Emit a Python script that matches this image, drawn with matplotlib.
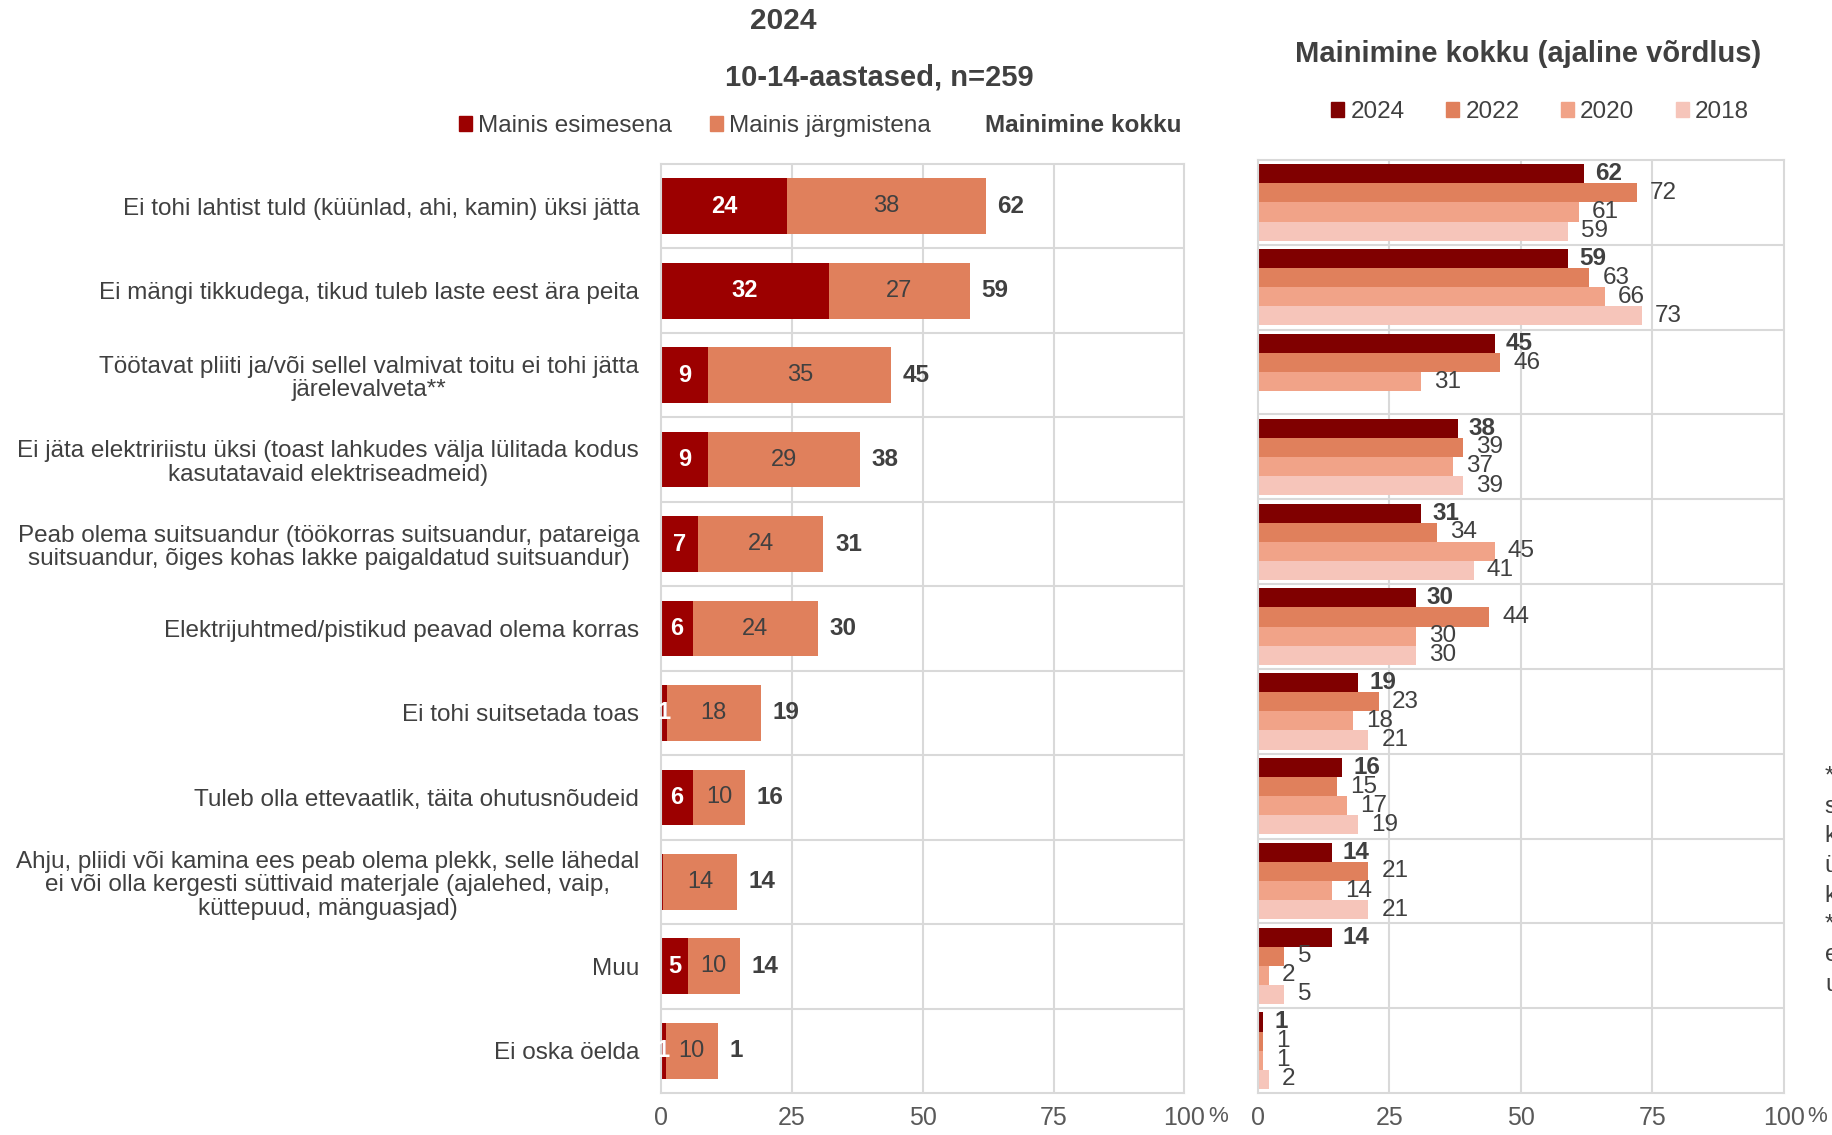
import matplotlib.pyplot as plt
import matplotlib.patches as mpatches
import numpy as np

plt.rcParams['font.family'] = ['Liberation Sans', 'DejaVu Sans']

categories = [
    "Ei tohi lahtist tuld (küünlad, ahi, kamin) üksi jätta",
    "Ei mängi tikkudega, tikud tuleb laste eest ära peita",
    "Töötavat pliiti ja/või sellel valmivat toitu ei tohi jätta\njärelevalveta**",
    "Ei jäta elektririistu üksi (toast lahkudes välja lülitada kodus\nkasutatavaid elektriseadmeid)",
    "Peab olema suitsuandur (töökorras suitsuandur, patareiga\nsuitsuandur, õiges kohas lakke paigaldatud suitsuandur)",
    "Elektrijuhtmed/pistikud peavad olema korras",
    "Ei tohi suitsetada toas",
    "Tuleb olla ettevaatlik, täita ohutusnõudeid",
    "Ahju, pliidi või kamina ees peab olema plekk, selle lähedal\nei või olla kergesti süttivaid materjale (ajalehed, vaip,\nküttepuud, mänguasjad)",
    "Muu",
    "Ei oska öelda",
]
first_mention = [24, 32, 9, 9, 7, 6, 1, 6, 0.4, 5, 0.8]
next_mention = [38, 27, 35, 29, 24, 24, 18, 10, 14, 10, 10]
total_mention = [62, 59, 45, 38, 31, 30, 19, 16, 14, 14, 1]

years = ["2024", "2022", "2020", "2018"]
y2024 = [62, 59, 45, 38, 31, 30, 19, 16, 14, 14, 1]
y2022 = [72, 63, 46, 39, 34, 44, 23, 15, 21, 5, 1]
y2020 = [61, 66, 31, 37, 45, 30, 18, 17, 14, 2, 1]
y2018 = [59, 73, np.nan, 39, 41, 30, 21, 19, 21, 5, 2]

footnote = ["*Vastaja", "sai nimetada", "kuni kolm", "ühte või", "kolme asja", "**2018. a", "ei olnud", "uuritud"]

TXT = '#404040'
GRID = '#d9d9d9'
c_first = '#9C0000'
c_next = '#E0805C'
year_colors = ['#800000', '#E0805C', '#F1A388', '#F6C5BA']

fig = plt.figure(figsize=(18.32, 11.35), dpi=100)
ax1 = fig.add_axes([0.361, 0.037, 0.2855, 0.8185])
ax2 = fig.add_axes([0.6867, 0.037, 0.287, 0.822])

ypos = np.arange(len(categories))


def style_axes(ax):
    ax.set_xlim(0, 100)
    ax.set_ylim(len(categories) - 0.5, -0.5)
    ax.set_xticks([0, 25, 50, 75, 100])
    ax.set_xticklabels(["0", "25", "50", "75", "100"])
    ax.tick_params(axis='x', length=0, pad=9, labelsize=18, labelcolor='#595959')
    ax.tick_params(axis='y', length=0)
    for s in ax.spines.values():
        s.set_color(GRID)
        s.set_linewidth(1.5)
    for xv in [25, 50, 75]:
        ax.axvline(xv, color=GRID, lw=1.5, zorder=0)
    for yv in ypos[:-1] + 0.5:
        ax.axhline(yv, color=GRID, lw=1.5, zorder=0)
    ax.annotate("%", (100, 0), xycoords=ax.get_xaxis_transform(), xytext=(17, -9),
                textcoords='offset points', ha='left', va='top', fontsize=16,
                color='#595959')


# left: stacked bars
style_axes(ax1)
h = 0.66
ax1.barh(ypos, first_mention, height=h, color=c_first, zorder=2)
ax1.barh(ypos, next_mention, left=first_mention, height=h, color=c_next, zorder=2)
for i in ypos:
    f, n, t = first_mention[i], next_mention[i], total_mention[i]
    if f >= 0.5:
        ax1.text(f / 2, i, f"{f:.0f}", ha='center', va='center', color='white',
                 fontsize=17, fontweight='bold', zorder=3)
    ax1.text(f + n / 2, i, f"{n:.0f}", ha='center', va='center', color=TXT,
             fontsize=17, zorder=3)
    ax1.text(f + n + 2.2, i, f"{t}", ha='left', va='center', color=TXT,
             fontsize=17.5, fontweight='bold', zorder=3)
ax1.set_yticks(ypos)
ax1.set_yticklabels(categories, fontsize=17.5, color=TXT, multialignment='center',
                    linespacing=1.1)
ax1.tick_params(axis='y', pad=16)

# right: comparison by year
style_axes(ax2)
ax2.set_yticks([])
bh = 0.225
series = [y2024, y2022, y2020, y2018]
for k, (vals, col) in enumerate(zip(series, year_colors)):
    pos = ypos - 1.5 * bh + k * bh
    ax2.barh(pos, vals, height=bh, color=col, zorder=2)
    for p, v in zip(pos, vals):
        if np.isnan(v):
            continue
        ax2.annotate(f"{v:.0f}", (v, p), xytext=(8 if k == 0 else 9.5, 0),
                     textcoords='offset points', ha='left', va='center', color=TXT,
                     fontsize=17.5,
                     fontweight='bold' if k == 0 else 'normal', zorder=3)

# titles
fig.text(783 / 1832, 1 - 21 / 1135, "2024", ha='center', va='center',
         fontsize=21.5, fontweight='bold', color=TXT)
fig.text(879 / 1832, 1 - 77 / 1135, "10-14-aastased, n=259", ha='center', va='center',
         fontsize=21, fontweight='bold', color=TXT)
fig.text(1528 / 1832, 1 - 54 / 1135, "Mainimine kokku (ajaline võrdlus)", ha='center',
         va='center', fontsize=21, fontweight='bold', color=TXT)

# legends
h1 = [mpatches.Patch(color=c_first, label="Mainis esimesena"),
      mpatches.Patch(color=c_next, label="Mainis järgmistena")]
fig.legend(handles=h1, loc='center left', bbox_to_anchor=(459 / 1832, 1 - 126 / 1135),
           ncol=2, frameon=False, fontsize=17.5, handlelength=0.55, handleheight=0.55,
           handletextpad=0.25, columnspacing=1.55, borderpad=0, borderaxespad=0,
           labelcolor=TXT)
fig.text(985 / 1832, 1 - 126 / 1135, "Mainimine kokku", ha='left', va='center',
         fontsize=17.5, fontweight='bold', color=TXT)

h2 = [mpatches.Patch(color=c, label=y) for c, y in zip(year_colors, years)]
fig.legend(handles=h2, loc='center left', bbox_to_anchor=(1331 / 1832, 1 - 112 / 1135),
           ncol=4, frameon=False, fontsize=17.5, handlelength=0.55, handleheight=0.55,
           handletextpad=0.25, columnspacing=1.7, borderpad=0, borderaxespad=0,
           labelcolor=TXT)

# footnote (cut off by the right edge, as in the source)
fig.text(1825 / 1832, 1 - 766 / 1135, "\n".join(footnote), ha='left', va='top',
         fontsize=17.5, color=TXT, linespacing=1.45)

fig.savefig("out.png", dpi=100)
